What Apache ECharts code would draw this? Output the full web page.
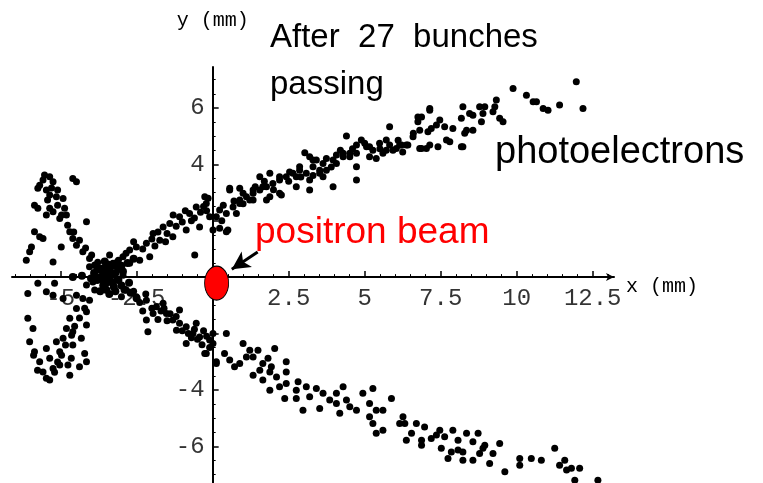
<!DOCTYPE html>
<html>
<head>
<meta charset="utf-8">
<script src="https://cdn.jsdelivr.net/npm/echarts@6/dist/echarts.min.js"></script>
<style>html,body{margin:0;padding:0;background:#fff}#c{width:763px;height:483px}</style>
</head>
<body>
<div id="c"></div>
<script>
// ---- data (mm) ----
var xMajorTicks = [-5, -2.5, 2.5, 5, 7.5, 10, 12.5];
var xMinorTicks = [-6.5,-6,-5.5,-4.5,-4,-3.5,-3,-2,-1.5,-1,-0.5,0.5,1,1.5,2,3,3.5,4,4.5,5.5,6,6.5,7,8,8.5,9,9.5,10.5,11,11.5,12,13];
var yMajorTicks = [-6, -4, -2, 2, 4, 6];
var yLabelTicks = [-6, -4, 4, 6];
var yMinorTicks = [-7,-6.5,-5.5,-5,-4.5,-3.5,-3,-2.5,-1.5,-1,-0.5,0.5,1,1.5,2.5,3,3.5,4.5,5,5.5,6.5,7];

var leftLoop = [
[-5.58,3.44],[-5.36,3.56],[-5.25,3.38],[-5.69,3.26],[-5.47,3.09],[-5.75,3.15],[-4.60,3.50],[-4.48,3.38],
[-5.36,2.91],[-5.14,2.85],[-4.92,2.79],[-5.86,2.55],[-5.75,2.44],[-5.36,2.44],[-5.47,2.20],[-5.25,2.32],
[-5.03,2.08],[-4.87,2.44],[-4.81,2.20],[-4.15,1.96],[-5.86,1.61],[-5.69,1.43],[-5.58,1.37],[-5.96,1.07],
[-6.02,0.90],[-6.13,0.60],[-5.25,0.54],[-4.98,1.07],[-4.70,1.61],[-4.60,1.37],[-4.48,1.13],[-4.27,0.90],
[-4.05,0.66],[-3.88,0.43],[-3.61,0.19],[-3.39,0.78],[-3.72,0.01],[-3.39,-0.05],[-3.17,-0.11],[-2.95,0.07],
[-5.10,2.55],[-4.97,2.20],[-4.77,1.84],[-4.57,1.60],[-4.38,1.31],[-4.18,1.03],[-3.98,0.78],[-3.78,0.53],
[-3.59,0.32],[-5.43,2.73],[-5.30,3.16],[-5.10,3.09],[-5.53,3.62],
[-5.75,-0.22],[-5.20,-0.22],[-6.08,-0.58],[-5.47,-0.52],[-5.25,-0.64],[-4.92,-0.76],[-4.48,-0.64],[-4.15,-0.28],
[-3.94,-0.17],[-4.27,-0.76],[-4.48,-1.11],[-4.70,-1.46],[-4.81,-1.82],[-4.92,-2.17],[-5.03,-2.65],[-5.03,-3.12],
[-6.08,-1.46],[-5.91,-1.82],[-6.02,-2.29],[-5.86,-2.65],[-5.69,-3.00],[-5.58,-3.36],[-5.47,-3.59],[-5.25,-3.24],
[-5.36,-2.88],[-5.47,-2.53],[-5.14,-2.29],[-4.60,-2.41],[-4.65,-2.88],[-4.76,-3.12],[-4.70,-3.48],[-4.38,-3.18],
[-4.21,-2.71],[-4.32,-2.17],[-4.15,-1.70],[-4.15,-1.23],[-4.60,-1.94],[-4.15,-3.00],
[-3.88,-0.46],[-4.05,-0.82],[-4.21,-1.10],[-4.38,-1.45],[-4.54,-1.74],[-4.64,-2.06],[-4.84,-2.41],[-4.97,-2.77],
[-5.10,-3.01],[-5.20,-3.37],[-5.36,-3.65],[-5.76,-3.30],[-5.89,-2.77]
];

var crossing = [
[-3.7,0.3],[-3.6,0.1],[-3.5,0.2],[-3.4,0.0],[-3.3,-0.2],[-3.5,-0.2],[-3.6,-0.3],[-3.8,-0.1],[-3.2,0.15],
[-3.1,0.3],[-3.0,0.4],[-3.3,0.4],[-3.45,0.45],[-3.0,-0.3],[-2.9,-0.45],[-3.2,-0.5],[-3.4,-0.6],[-3.7,-0.5],
[-2.8,0.5],[-2.7,-0.55],[-3.9,0.15],[-4.0,-0.05],[-4.3,0.05],[-4.6,0.0],[-3.55,0.55],
[-3.3,0.1],[-3.4,0.25],[-3.6,-0.1],[-3.25,-0.35],[-3.1,-0.1],[-2.95,0.2],[-2.6,0.65],[-2.5,-0.75],
[-3.8,0.35],[-3.5,-0.45],[-3.15,0.5],[-2.75,-0.2]
];

var upperBranch = [
[-4.05,0.37],[-3.72,0.25],[-3.28,0.49],[-2.95,0.72],[-2.73,0.96],[-2.51,1.07],[-2.18,1.20],[-1.96,1.55],
[-1.63,1.78],[-1.41,1.90],[-1.09,2.14],[-0.76,2.26],[-0.54,2.49],[-0.21,2.61],[-0.10,2.14],[-0.43,1.78],
[-0.87,1.67],[-1.31,1.43],[-1.74,1.31],[-2.40,0.60],[-2.73,0.49],[-2.07,0.72],[-0.59,0.78],[-0.26,2.85],
[0.01,1.67],[-2.6,1.25],[-2.3,1.0],[-2.0,1.35],[-1.8,1.6],[-1.5,1.55],[-1.2,1.8],[-1.0,1.95],[-0.7,2.0],
[-0.4,2.3],[-0.2,2.35],[-1.9,1.1],[-1.55,1.25],[-2.85,0.85],[-3.1,0.6],[-1.3,2.2],[-0.9,2.35],[-0.6,2.1],
[0.45,1.61],[-0.3,2.5],[-0.15,2.8],[0.3,2.0],[0.35,2.55],[0.7,2.7],[1.0,2.6],[1.4,3.2],[1.7,3.4],[2.0,3.1],
[2.5,3.4],[2.9,3.55],[3.3,3.6],[3.9,3.9],[4.2,4.5],[4.6,4.55],[5.0,4.75],[5.5,4.55],[6.1,4.85],[6.6,5.1],
[4.40,5.00],[4.89,4.86],[4.73,4.68],[5.16,4.62],[5.49,4.75],[5.82,4.68],[6.15,4.68],[6.37,4.68],[3.03,4.41],
[3.19,4.27],[3.41,4.15],[3.74,4.21],[4.07,4.33],[4.29,4.39],[4.51,4.27],[4.73,4.39],[5.27,4.50],[5.60,4.39],
[5.38,4.21],[5.71,4.50],[6.04,4.56],[6.25,4.44],[4.73,3.91],[4.73,3.44],[3.96,3.20],[3.19,3.09],[3.52,3.79],
[3.08,3.68],[2.75,3.56],[2.53,3.73],[2.20,3.56],[1.98,3.32],[1.88,3.68],[1.65,3.20],[1.55,3.56],[1.33,3.09],
[1.22,2.73],[1.00,2.97],[0.89,2.61],[0.67,2.49],[0.56,3.09],[0.78,2.26],[0.45,2.26],[0.23,2.38],[0.12,2.14],
[0.23,1.73],[0.50,1.67],[2.26,2.91],[1.88,2.85],[2.86,3.91],[3.63,3.56],
[5.82,5.33],[7.14,5.98],[6.75,5.68],[6.81,4.56],[7.14,4.68],[7.41,4.62],[7.69,4.86],[8.23,4.62],[5.06,4.62],
[5.71,4.86],[5.93,4.50],[5.16,4.27],[4.29,4.27],[3.96,4.15],[3.63,4.03],[3.30,3.91],[3.30,4.15],[3.52,3.68],
[2.86,3.79],[2.64,3.68],[2.42,3.56],[2.20,3.44],[1.77,3.20],[1.55,3.09],[1.33,2.97],[1.11,2.85],[0.89,2.73],
[0.56,3.15],[0.89,3.15],[1.33,2.73],[1.77,2.73],[2.20,2.97],[2.75,3.20],[3.19,3.44],[3.74,3.79],[4.07,4.03],
[4.51,4.39],
[9.88,6.69],[10.32,6.45],[10.54,6.22],[10.65,6.22],[10.87,5.98],[11.03,5.92],[11.41,6.10],[11.96,6.93],
[12.18,5.98],[9.33,6.28],[9.28,6.04],[9.22,5.86],[9.44,5.63],[9.55,5.51],[8.95,6.04],[8.78,6.04],[8.89,5.80],
[8.84,5.51],[8.23,6.04],[8.45,5.80],[8.56,5.74],[8.18,5.63],[8.35,5.21],[8.56,5.21],[8.29,5.10],[7.90,5.27],
[7.63,5.33],[7.47,5.57],[7.36,5.39],[7.19,5.27],[7.08,5.15],[7.14,5.92],[6.87,5.68],[6.75,5.51],[6.81,5.21],
[6.59,4.98],[6.42,4.68],[6.21,4.68],[6.87,4.56],[7.03,4.56],[7.80,4.80],[8.18,4.62]
];

var lowerBranch = [
[-2.84,-0.46],[-2.51,-0.70],[-2.18,-0.82],[-1.85,-1.05],[-1.96,-1.29],[-1.52,-1.29],[-1.31,-1.52],[-1.09,-1.64],
[-0.87,-1.76],[-0.65,-2.00],[-0.43,-2.12],[-1.09,-1.17],[-1.63,-0.93],[-2.18,-1.52],[-2.13,-1.94],[-0.10,-2.23],
[-0.21,-2.71],[-1.19,-1.88],[-0.87,-2.35],[-0.54,-1.64],[-2.6,-0.5],[-2.4,-0.9],[-2.0,-1.1],[-1.7,-1.2],
[-1.4,-1.3],[-1.2,-1.4],[-1.0,-1.9],[-0.8,-2.0],[-0.3,-1.9],[-0.2,-2.1],[-0.6,-1.85],[-3.0,-0.7],[-2.2,-0.6],
[-1.8,-1.5],[0.45,-2.00],[-0.26,-2.71],[0.12,-3.06],[-0.5,-2.2],[-0.35,-2.4],[-0.7,-2.15],[-1.5,-1.55],
[-1.6,-1.1],[-2.3,-1.2],[-0.1,-2.5],
[0.01,-2.00],[0.01,-2.35],[0.12,-3.00],[0.39,-2.71],[0.56,-2.94],[0.72,-3.18],[0.89,-3.06],[1.00,-2.35],
[1.11,-2.83],[1.22,-2.59],[1.33,-2.83],[1.49,-2.59],[1.65,-3.06],[1.82,-2.88],[2.04,-2.53],[2.42,-3.00],
[1.93,-3.18],[1.55,-3.30],[1.33,-3.48],[1.65,-3.65],[1.88,-3.36],[2.10,-3.54],[2.20,-3.89],[2.42,-3.36],
[2.42,-3.77],[1.88,-4.01],[2.37,-4.30],[2.81,-3.71],[2.75,-4.01],[2.75,-4.30],[3.08,-3.89],[3.19,-4.24],
[3.41,-3.95],[3.63,-4.12],[2.97,-4.72],[3.52,-4.66],[3.85,-4.36],[4.07,-4.12],[4.29,-3.89],[4.07,-4.48],
[4.18,-4.83],[4.40,-4.36],[4.51,-4.60],[4.73,-4.72],[4.94,-4.12],[5.27,-3.95],[5.16,-4.48],[5.38,-4.72],
[5.16,-4.95],[5.27,-5.19],[5.38,-5.54],[5.60,-4.72],[5.88,-4.30],[5.60,-5.43],[6.15,-5.19],[6.26,-4.95],
[6.37,-5.78],
[6.32,-5.19],[6.70,-5.19],[6.97,-5.31],[6.54,-5.54],[6.87,-5.78],[6.87,-5.96],[7.19,-5.72],[7.36,-5.60],
[7.47,-5.43],[7.52,-6.07],[7.63,-5.66],[7.90,-5.43],[8.07,-5.78],[8.35,-5.54],[8.56,-5.84],[8.73,-5.54],
[8.95,-5.96],[8.89,-6.07],[9.44,-5.90],[7.85,-6.20],[7.74,-6.43],[8.07,-6.13],[8.23,-6.20],[8.23,-6.49],
[8.56,-6.49],[8.78,-6.25],[9.22,-6.25],[9.11,-6.61],[9.61,-6.90],[10.10,-6.43],[10.10,-6.67],[10.48,-6.43],
[10.81,-6.49],[11.25,-6.07],[11.41,-6.67],[11.58,-6.49],[11.64,-6.84],[11.80,-6.78],[12.07,-6.78],[11.91,-7.20],
[12.67,-7.20]
];

var beamPosition = [[0.13, -0.21]];
var arrowFrom = [1.48, 0.89];
var arrowTo = [0.63, 0.28];

// ---- chart ----
var chart = echarts.init(document.getElementById('c'), null, {renderer: 'canvas'});
var monoFont = 'Liberation Mono';
var axisColor = '#000';

function baseX(extra) {
  return Object.assign({
    type: 'value', min: -6.6, max: 13.2, position: 'bottom',
    splitLine: {show: false},
    axisLine: {onZero: true, lineStyle: {color: axisColor, width: 2}}
  }, extra);
}
function baseY(extra) {
  return Object.assign({
    type: 'value', min: -7.3, max: 7.45, position: 'left',
    splitLine: {show: false},
    axisLine: {onZero: true, lineStyle: {color: axisColor, width: 2}}
  }, extra);
}

var dotStyle = {color: '#000', opacity: 1};

var option = {
  animation: false,
  backgroundColor: '#fff',
  tooltip: {show: false},
  grid: {left: 12, top: 67, width: 602, height: 416, containLabel: false, outerBoundsMode: 'none'},
  xAxis: [
    baseX({
      name: 'x (mm)', nameLocation: 'end', nameGap: 12,
      nameTextStyle: {fontFamily: monoFont, fontSize: 20, color: '#000', verticalAlign: 'top', align: 'left'},
      axisLine: {onZero: true, symbol: ['none', 'arrow'], symbolSize: [6, 8], lineStyle: {color: axisColor, width: 2}},
      axisTick: {show: true, inside: true, length: 6, customValues: xMajorTicks, lineStyle: {color: '#000', width: 1.5}},
      axisLabel: {show: false}
    }),
    baseX({
      axisLine: {show: false, onZero: true},
      axisTick: {show: true, inside: true, length: 3, customValues: xMinorTicks, lineStyle: {color: '#000', width: 1}},
      axisLabel: {show: false}
    })
  ],
  yAxis: [
    baseY({
      name: 'y (mm)', nameLocation: 'end', nameGap: 36,
      nameTextStyle: {fontFamily: monoFont, fontSize: 20, color: '#000'},
      axisTick: {show: true, inside: true, length: 6, customValues: yMajorTicks, lineStyle: {color: '#000', width: 1.5}},
      axisLabel: {show: false}
    }),
    baseY({
      axisLine: {show: false, onZero: true},
      axisTick: {show: true, inside: true, length: 3, customValues: yMinorTicks, lineStyle: {color: '#000', width: 1}},
      axisLabel: {show: false}
    })
  ],
  series: [
    {
      type: 'scatter', name: 'x tick labels', silent: true, z: 1, symbolSize: 0,
      data: xMajorTicks.map(function (v) { return [v, 0]; }),
      label: {show: true, position: 'bottom', distance: 10, fontFamily: monoFont, fontSize: 24, color: '#000',
        formatter: function (p) { return String(p.value[0]); }}
    },
    {
      type: 'scatter', name: 'y tick labels', silent: true, z: 1, symbolSize: 0,
      data: yLabelTicks.map(function (v) { return [0, v]; }),
      label: {show: true, position: 'left', distance: 8, fontFamily: monoFont, fontSize: 24, color: '#000',
        formatter: function (p) { return String(p.value[1]); }}
    },
    {type: 'scatter', name: 'left loop', data: leftLoop, symbolSize: 7, z: 2, itemStyle: dotStyle},
    {type: 'scatter', name: 'crossing', data: crossing, symbolSize: 8, z: 2, itemStyle: dotStyle},
    {type: 'scatter', name: 'upper', data: upperBranch, symbolSize: 7, z: 2, itemStyle: dotStyle},
    {type: 'scatter', name: 'lower', data: lowerBranch, symbolSize: 7, z: 2, itemStyle: dotStyle},
    {
      type: 'scatter', name: 'positron beam', data: beamPosition, z: 5,
      symbol: 'circle', symbolSize: [24, 34],
      itemStyle: {color: '#ff0000', borderColor: '#000', borderWidth: 1, opacity: 1},
      markLine: {
        silent: true, symbol: ['none', 'arrow'], symbolSize: [14, 18],
        label: {show: false},
        lineStyle: {color: '#000', width: 3, type: 'solid'},
        data: [[{coord: arrowFrom}, {coord: arrowTo}]]
      }
    }
  ],
  graphic: [
    {type: 'text', x: 270, y: 38, style: {text: 'After  27  bunches', font: '33px "Liberation Sans", Arial, sans-serif', fill: '#000', verticalAlign: 'middle'}},
    {type: 'text', x: 270, y: 85, style: {text: 'passing', font: '33px "Liberation Sans", Arial, sans-serif', fill: '#000', verticalAlign: 'middle'}},
    {type: 'text', x: 495, y: 153, style: {text: 'photoelectrons', font: '38px "Liberation Sans", Arial, sans-serif', fill: '#000', verticalAlign: 'middle'}},
    {type: 'text', x: 255, y: 233, style: {text: 'positron beam', font: '37px "Liberation Sans", Arial, sans-serif', fill: '#ff0000', verticalAlign: 'middle'}}
  ]
};
chart.setOption(option);
</script>
</body>
</html>
